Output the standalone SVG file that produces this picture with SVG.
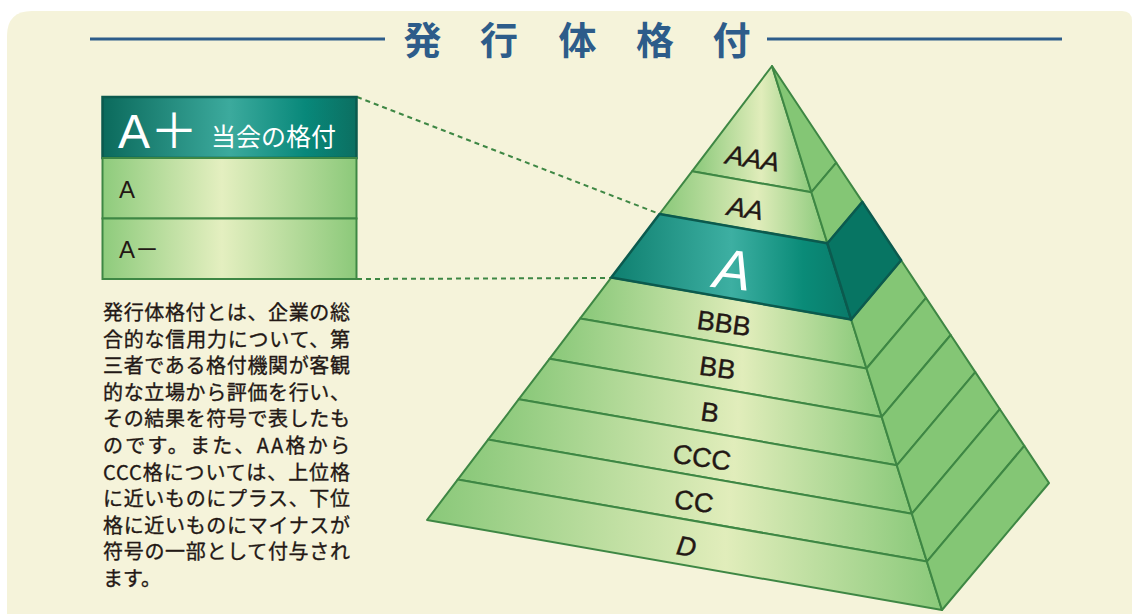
<svg xmlns="http://www.w3.org/2000/svg" width="1132" height="614" viewBox="0 0 1132 614">
<defs>
<linearGradient id="gFront" x1="0" y1="0" x2="1" y2="0">
<stop offset="0" stop-color="#89C879"/><stop offset="0.58" stop-color="#E1EDBB"/><stop offset="1" stop-color="#8AC97A"/>
</linearGradient>
<linearGradient id="gTeal" x1="0" y1="0" x2="1" y2="0">
<stop offset="0" stop-color="#0E7F6F"/><stop offset="0.5" stop-color="#3DAFA2"/><stop offset="0.8" stop-color="#0A8B78"/><stop offset="1" stop-color="#0A7A69"/>
</linearGradient>
<linearGradient id="gBoxTeal" x1="0" y1="0" x2="1" y2="0">
<stop offset="0" stop-color="#0B6A5C"/><stop offset="0.5" stop-color="#3CAA9D"/><stop offset="0.8" stop-color="#08887A"/><stop offset="1" stop-color="#0C6F61"/>
</linearGradient>
<linearGradient id="gBoxRow" x1="0" y1="0" x2="1" y2="0">
<stop offset="0" stop-color="#8ECB7C"/><stop offset="0.47" stop-color="#E4EFC0"/><stop offset="1" stop-color="#8CC97A"/>
</linearGradient>
</defs>
<style>
.front{fill:url(#gFront);stroke:#3E8744;stroke-width:2;stroke-linejoin:round}
.side{fill:#84C675;stroke:#3E8744;stroke-width:2;stroke-linejoin:round}
.tfront{fill:url(#gTeal);stroke:#0B5A4E;stroke-width:2.5;stroke-linejoin:round}
.tside{fill:#077563;stroke:#0B5A4E;stroke-width:2.5;stroke-linejoin:round}
.lbl{font-family:"Liberation Sans",Arial,sans-serif;font-size:27px;fill:#231815;stroke:#231815;stroke-width:0.4;text-anchor:middle}
.it{font-style:italic}
.para{font-family:"Noto Sans CJK JP",sans-serif;font-size:20px;fill:#231815;stroke:#231815;stroke-width:0.35}
.rowtxt{font-family:"Liberation Sans","Noto Sans CJK JP",sans-serif;font-size:24px;fill:#231815}
.dash{stroke:#3E8744;stroke-width:2;stroke-dasharray:5 4;fill:none}
</style>
<rect width="1132" height="614" fill="#FFFFFF"/>
<path d="M7,36 Q7,11 32,11 H1122 Q1132,11 1132,21 V614 H7 Z" fill="#F5F3DA"/>

<g id="title">
<line x1="90" y1="39" x2="385" y2="39" stroke="#2D5C8A" stroke-width="3"/>
<line x1="767" y1="39" x2="1062" y2="39" stroke="#2D5C8A" stroke-width="3"/>
<text x="422.5 499 577.5 655 731.5" y="54" font-family="Noto Sans CJK JP,sans-serif" font-size="38" font-weight="bold" fill="#2D5C8A" text-anchor="middle">発行体格付</text>
</g>

<g id="connectors">
<line class="dash" x1="357" y1="97" x2="659.5" y2="214"/>
<line class="dash" x1="357" y1="279" x2="611.2" y2="278"/>
</g>

<g id="box-header">
<rect x="102.5" y="97" width="254" height="61" fill="url(#gBoxTeal)" stroke="#0B5A4E" stroke-width="2.5"/>
<text x="118" y="148" font-family="Liberation Sans,Noto Sans CJK JP,sans-serif" font-size="48" fill="#FFFFFF">A<tspan font-family="Noto Sans CJK JP,sans-serif">＋</tspan></text>
<text x="211" y="146" font-family="Noto Sans CJK JP,sans-serif" font-size="25" fill="#FFFFFF">当会の格付</text>
</g>
<g id="box-row-a">
<rect x="102.5" y="158" width="254" height="60.5" fill="url(#gBoxRow)" stroke="#3E8744" stroke-width="2"/>
<text class="rowtxt" x="119" y="198">A</text>
</g>
<g id="box-row-aminus">
<rect x="102.5" y="218.5" width="254" height="60.5" fill="url(#gBoxRow)" stroke="#3E8744" stroke-width="2"/>
<text class="rowtxt" x="119" y="258">A<tspan font-family="Noto Sans CJK JP,sans-serif">－</tspan></text>
</g>

<g id="description" class="para">
<text x="103" y="320" textLength="247" lengthAdjust="spacing">発行体格付とは、企業の総</text>
<text x="103" y="346.6" textLength="247" lengthAdjust="spacing">合的な信用力について、第</text>
<text x="103" y="373.2" textLength="247" lengthAdjust="spacing">三者である格付機関が客観</text>
<text x="103" y="399.8" textLength="247" lengthAdjust="spacing">的な立場から評価を行い、</text>
<text x="103" y="426.4" textLength="247" lengthAdjust="spacing">その結果を符号で表したも</text>
<text x="103" y="453" textLength="247" lengthAdjust="spacing">のです。また、AA格から</text>
<text x="103" y="479.6" textLength="247" lengthAdjust="spacing">CCC格については、上位格</text>
<text x="103" y="506.2" textLength="247" lengthAdjust="spacing">に近いものにプラス、下位</text>
<text x="103" y="532.8" textLength="247" lengthAdjust="spacing">格に近いものにマイナスが</text>
<text x="103" y="559.4" textLength="247" lengthAdjust="spacing">符号の一部として付与され</text>
<text x="103" y="586">ます。</text>
</g>

<g id="tier-AAA">
<polygon class="front" points="772,66 811.4,192.2 692,171.3"/>
<polygon class="side" points="772,66 836.3,162.7 811.4,192.2"/>
<text class="lbl it" transform="translate(753,158) rotate(9)" y="9.7">AAA</text>
</g>
<g id="tier-AA">
<polygon class="front" points="692,171.3 811.4,192.2 827.4,243.3 659.5,214"/>
<polygon class="side" points="811.4,192.2 836.3,162.7 862.4,201.9 827.4,243.3"/>
<text class="lbl it" transform="translate(745.5,208) rotate(9)" y="9.7">AA</text>
</g>
<g id="tier-BBB">
<polygon class="front" points="611.2,277.6 851.2,319.5 866.5,368.5 580.2,318.4"/>
<polygon class="side" points="851.2,319.5 901.1,260.3 926,297.9 866.5,368.5"/>
<text class="lbl" transform="translate(724,323) rotate(8)" y="9.7">BBB</text>
</g>
<g id="tier-BB">
<polygon class="front" points="580.2,318.4 866.5,368.5 881.7,416.9 549.5,358.8"/>
<polygon class="side" points="866.5,368.5 926,297.9 950.7,335 881.7,416.9"/>
<text class="lbl" transform="translate(717.5,367.5) rotate(8)" y="9.7">BB</text>
</g>
<g id="tier-B">
<polygon class="front" points="549.5,358.8 881.7,416.9 896.8,465.3 518.8,399.2"/>
<polygon class="side" points="881.7,416.9 950.7,335 975.3,372.1 896.8,465.3"/>
<text class="lbl" transform="translate(710,412) rotate(8)" y="9.7">B</text>
</g>
<g id="tier-CCC">
<polygon class="front" points="518.8,399.2 896.8,465.3 911.9,513.7 488.1,439.6"/>
<polygon class="side" points="896.8,465.3 975.3,372.1 999.9,409.2 911.9,513.7"/>
<text class="lbl" transform="translate(702,457) rotate(8)" y="9.7">CCC</text>
</g>
<g id="tier-CC">
<polygon class="front" points="488.1,439.6 911.9,513.7 926.9,561.6 457.7,479.6"/>
<polygon class="side" points="911.9,513.7 999.9,409.2 1024.3,445.9 926.9,561.6"/>
<text class="lbl" transform="translate(694,501) rotate(8)" y="9.7">CC</text>
</g>
<g id="tier-D">
<polygon class="front" points="457.7,479.6 926.9,561.6 942,610 427,520"/>
<polygon class="side" points="926.9,561.6 1024.3,445.9 1049,483 942,610"/>
<text class="lbl it" transform="translate(686.5,546) rotate(8)" y="9.7">D</text>
</g>
<g id="tier-A">
<polygon class="tfront" points="659.5,214 827.4,243.3 851.2,319.5 611.2,277.6"/>
<polygon class="tside" points="827.4,243.3 862.4,201.9 901.1,260.3 851.2,319.5"/>
<text class="lbl it" transform="translate(733,269) rotate(6)" y="20" style="font-size:56px;fill:#FFFFFF;stroke:none">A</text>
</g>
</svg>
